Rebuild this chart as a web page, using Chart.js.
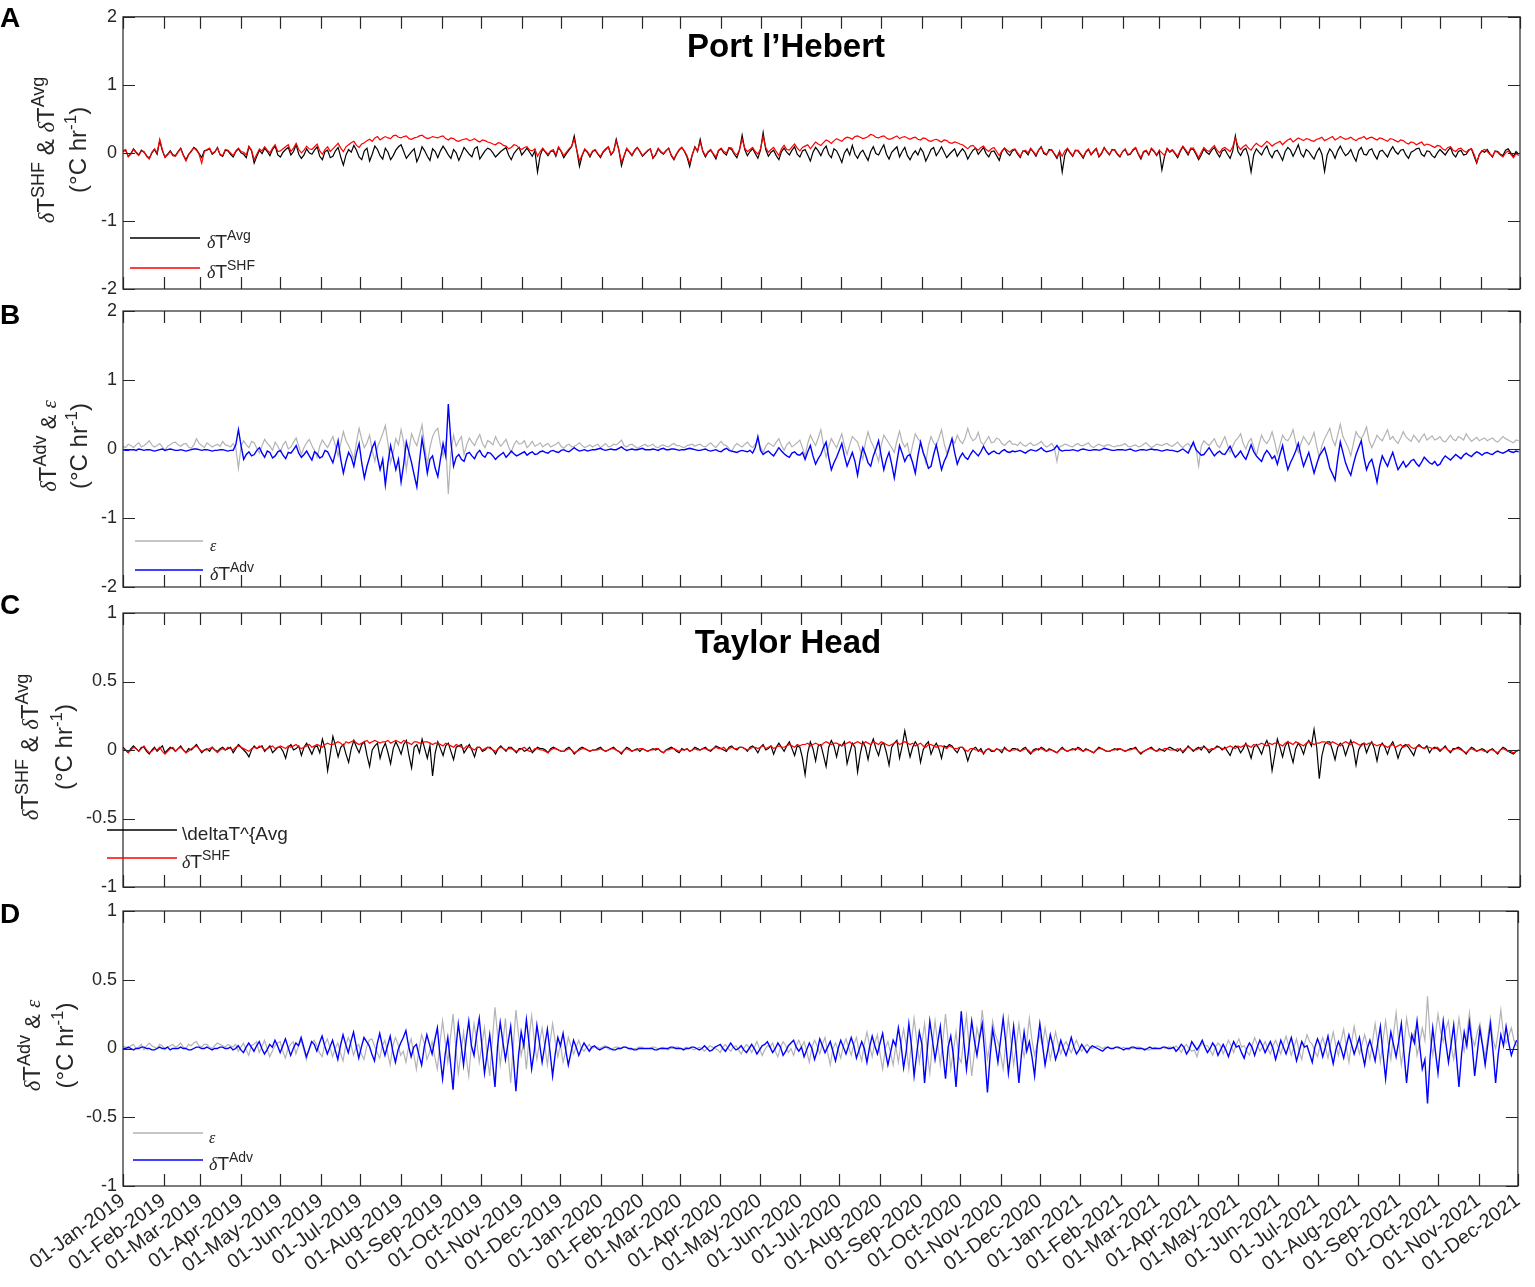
<!DOCTYPE html>
<html>
<head>
<meta charset="utf-8">
<script src="https://cdn.jsdelivr.net/npm/chart.js@4.4.1/dist/chart.umd.min.js"></script>
<style>
  html, body { margin: 0; padding: 0; background: #fff; }
  #wrap { position: relative; width: 1535px; height: 1287px; overflow: hidden; }
  canvas { position: absolute; left: 0; }
</style>
</head>
<body>
<div id="wrap">
  <canvas id="cA" width="1535" height="311" style="top:0px"></canvas>
  <canvas id="cB" width="1535" height="320" style="top:289px"></canvas>
  <canvas id="cC" width="1535" height="318" style="top:591px"></canvas>
  <canvas id="cD" width="1535" height="398" style="top:889px"></canvas>
</div>
<script>
// one sample every 2 days, starting 01-Jan-2019
const STEP_DAYS = 2;

const TICK_DAYS = [0, 31, 59, 90, 120, 151, 181, 212, 243, 273, 304, 334,
  365, 396, 425, 456, 486, 517, 547, 578, 609, 639, 670, 700,
  731, 762, 790, 821, 851, 882, 912, 943, 974, 1004, 1035, 1065];
const TICK_LABELS = ["01-Jan-2019", "01-Feb-2019", "01-Mar-2019", "01-Apr-2019", "01-May-2019", "01-Jun-2019",
  "01-Jul-2019", "01-Aug-2019", "01-Sep-2019", "01-Oct-2019", "01-Nov-2019", "01-Dec-2019",
  "01-Jan-2020", "01-Feb-2020", "01-Mar-2020", "01-Apr-2020", "01-May-2020", "01-Jun-2020",
  "01-Jul-2020", "01-Aug-2020", "01-Sep-2020", "01-Oct-2020", "01-Nov-2020", "01-Dec-2020",
  "01-Jan-2021", "01-Feb-2021", "01-Mar-2021", "01-Apr-2021", "01-May-2021", "01-Jun-2021",
  "01-Jul-2021", "01-Aug-2021", "01-Sep-2021", "01-Oct-2021", "01-Nov-2021", "01-Dec-2021"];

const Y_TICKS_PH = [-2, -1, 0, 1, 2];
const Y_TICKS_TH = [-1, -0.5, 0, 0.5, 1];

// Port l'Hebert: dT^Avg (black)
const PH_AVG = [
  0.02, 0.04, -0.05, -0.01, 0.06, 0.01, -0.03, 0.04, 0.01, -0.04, -0.08, 0.00, 0.05, -0.02, 0.18, 0.03, -0.06, -0.02, 0.03, -0.03,
  -0.04, 0.02, 0.07, -0.03, -0.10, -0.02, 0.02, 0.08, 0.05, -0.01, -0.07, 0.03, 0.04, 0.06, -0.02, 0.01, 0.08, -0.03, -0.05, 0.04,
  0.03, -0.02, -0.06, 0.02, 0.06, 0.00, -0.02, -0.07, 0.09, 0.03, -0.15, -0.05, 0.04, -0.01, 0.07, 0.02, -0.04, 0.05, 0.10, -0.03,
  -0.06, 0.01, 0.05, 0.08, -0.03, 0.02, 0.12, -0.02, -0.08, -0.03, 0.06, 0.00, -0.02, 0.04, 0.09, -0.05, -0.10, 0.02, 0.04, -0.07,
  -0.05, 0.03, 0.08, -0.06, -0.18, -0.03, 0.05, 0.01, 0.11, 0.04, -0.06, -0.10, 0.03, 0.07, -0.12, -0.02, 0.10, 0.05, -0.04, -0.09,
  0.07, 0.01, -0.10, -0.04, 0.04, 0.09, 0.12, 0.02, -0.08, -0.03, 0.02, 0.06, -0.13, -0.04, 0.09, 0.03, -0.05, -0.11, 0.06, 0.02,
  -0.07, 0.03, 0.10, 0.04, -0.03, -0.08, 0.05, 0.00, -0.11, -0.02, 0.08, 0.03, -0.02, -0.06, 0.06, 0.09, -0.09, -0.03, 0.03, 0.07,
  0.05, 0.00, -0.06, -0.02, 0.02, 0.05, 0.08, -0.03, -0.10, -0.01, 0.04, 0.08, -0.03, 0.02, 0.07, 0.01, -0.05, 0.03, -0.28, -0.04,
  0.06, 0.01, -0.04, 0.02, 0.03, -0.05, 0.08, 0.02, -0.07, -0.01, 0.04, 0.09, 0.25, 0.03, -0.20, -0.04, 0.05, 0.01, -0.06, 0.02,
  0.04, -0.02, -0.07, 0.01, 0.05, 0.09, -0.03, 0.02, 0.20, 0.04, -0.19, -0.05, 0.06, 0.01, -0.04, 0.03, 0.08, 0.02, -0.05, -0.01,
  0.03, 0.06, -0.08, -0.03, 0.06, 0.01, -0.02, 0.03, 0.07, -0.04, -0.10, -0.02, 0.04, 0.08, 0.02, -0.06, -0.20, -0.03, 0.09, 0.02,
  0.20, 0.02, -0.06, 0.01, 0.04, -0.02, -0.09, 0.03, 0.06, 0.00, -0.03, 0.07, 0.05, -0.02, -0.07, 0.04, 0.26, 0.05, -0.04, 0.02,
  0.06, -0.01, -0.08, 0.04, 0.30, 0.05, -0.05, 0.01, 0.04, -0.04, -0.10, 0.02, 0.07, 0.01, -0.03, 0.04, 0.09, -0.02, -0.06, 0.03,
  0.05, -0.03, -0.12, 0.01, 0.08, 0.03, -0.04, 0.05, 0.10, -0.02, -0.07, 0.06, 0.03, -0.05, -0.14, 0.00, 0.06, -0.03, 0.11, -0.02,
  -0.08, 0.00, 0.04, -0.04, -0.11, 0.02, 0.09, -0.01, -0.03, 0.05, 0.12, -0.02, -0.09, 0.01, 0.05, 0.09, -0.06, 0.02, 0.08, -0.04,
  -0.10, -0.02, 0.03, -0.03, 0.07, 0.01, -0.12, -0.04, 0.05, 0.08, -0.04, 0.02, 0.09, 0.01, -0.07, -0.02, 0.02, 0.06, -0.05, 0.01,
  0.06, 0.01, -0.09, -0.02, 0.04, 0.07, -0.02, 0.03, 0.08, -0.01, -0.06, 0.02, 0.03, -0.04, -0.11, 0.02, 0.07, 0.00, -0.04, 0.03,
  0.05, -0.02, -0.07, 0.03, 0.02, -0.03, 0.06, 0.01, -0.05, 0.04, 0.09, -0.01, -0.03, 0.05, 0.04, -0.02, -0.08, 0.02, -0.28, -0.03,
  0.06, 0.00, -0.05, 0.04, 0.03, -0.02, -0.08, 0.01, 0.05, -0.03, 0.02, 0.06, -0.06, -0.01, 0.08, 0.02, -0.03, 0.05, 0.04, -0.02,
  -0.06, 0.02, 0.05, -0.03, -0.02, 0.04, 0.07, -0.02, -0.09, 0.01, 0.03, -0.03, 0.06, 0.02, -0.04, 0.03, -0.25, -0.05, 0.06, 0.01,
  0.04, -0.01, -0.07, 0.02, 0.09, 0.03, -0.03, 0.06, 0.05, -0.02, -0.10, -0.03, 0.06, 0.01, -0.02, 0.04, 0.08, 0.00, -0.06, 0.03,
  0.05, -0.02, -0.08, 0.03, 0.25, 0.02, -0.04, 0.04, 0.07, -0.05, -0.28, -0.03, 0.06, 0.01, -0.03, 0.05, 0.10, -0.01, -0.07, 0.02,
  0.04, -0.03, -0.11, 0.02, 0.08, 0.04, -0.05, 0.03, 0.12, -0.01, -0.06, 0.05, 0.02, -0.04, -0.09, 0.01, 0.07, -0.02, -0.27, -0.03,
  0.06, 0.01, -0.08, 0.03, 0.10, 0.02, -0.04, -0.01, 0.05, -0.05, -0.12, 0.03, 0.08, -0.02, -0.03, 0.04, 0.06, -0.03, -0.09, 0.02,
  0.04, -0.01, -0.06, 0.03, 0.09, 0.02, -0.02, 0.04, 0.05, -0.03, -0.08, 0.01, 0.03, 0.06, 0.07, -0.02, -0.05, 0.03, 0.02, -0.04,
  -0.07, 0.00, 0.05, 0.01, -0.03, 0.03, 0.08, -0.02, -0.06, 0.02, 0.04, -0.03, -0.02, 0.04, 0.06, -0.05, -0.15, -0.02, 0.03, 0.01,
  0.05, -0.01, -0.06, 0.03, 0.02, -0.02, -0.04, 0.04, 0.06, 0.00, -0.05, 0.02, -0.02
];

// Port l'Hebert: dT^SHF (red)
const PH_SHF = [
  0.03, 0.05, -0.06, -0.02, 0.05, 0.00, -0.04, 0.03, 0.02, -0.05, -0.09, 0.01, 0.06, 0.00, 0.20, 0.05, -0.07, -0.03, 0.02, -0.04,
  -0.05, 0.01, 0.06, -0.04, -0.12, -0.03, 0.03, 0.07, 0.04, -0.02, -0.15, 0.02, 0.05, 0.07, -0.01, 0.02, 0.07, -0.02, -0.04, 0.05,
  0.04, 0.00, -0.04, 0.03, 0.07, 0.02, 0.01, -0.03, 0.10, 0.04, -0.10, -0.02, 0.06, 0.03, 0.09, 0.04, 0.00, 0.07, 0.12, 0.02,
  0.03, 0.06, 0.09, 0.12, 0.02, 0.07, 0.14, 0.05, 0.00, 0.04, 0.10, 0.06, 0.05, 0.09, 0.13, 0.03, -0.02, 0.05, 0.09, 0.02,
  0.06, 0.10, 0.14, 0.07, 0.02, 0.09, 0.12, 0.15, 0.17, 0.11, 0.08, 0.13, 0.15, 0.18, 0.20, 0.17, 0.22, 0.24, 0.19, 0.22,
  0.24, 0.22, 0.21, 0.25, 0.26, 0.23, 0.22, 0.24, 0.25, 0.21, 0.20, 0.22, 0.23, 0.25, 0.26, 0.23, 0.21, 0.22, 0.24, 0.23,
  0.22, 0.24, 0.25, 0.21, 0.19, 0.22, 0.21, 0.18, 0.17, 0.19, 0.20, 0.21, 0.18, 0.19, 0.21, 0.18, 0.16, 0.19, 0.18, 0.16,
  0.15, 0.13, 0.12, 0.15, 0.14, 0.11, 0.10, 0.06, 0.08, 0.12, 0.11, 0.07, 0.05, 0.08, 0.09, 0.04, 0.03, 0.06, -0.05, 0.02,
  0.07, 0.02, -0.02, 0.03, 0.05, -0.03, 0.09, 0.03, -0.04, 0.01, 0.06, 0.10, 0.20, 0.04, -0.12, -0.03, 0.06, 0.02, -0.04, 0.03,
  0.05, -0.01, -0.05, 0.02, 0.06, 0.09, -0.02, 0.03, 0.17, 0.05, -0.14, -0.04, 0.07, 0.02, -0.03, 0.04, 0.08, 0.03, -0.04, 0.00,
  0.04, 0.06, -0.07, -0.02, 0.07, 0.02, -0.01, 0.04, 0.06, -0.03, -0.09, -0.01, 0.05, 0.08, 0.03, -0.04, -0.15, -0.02, 0.08, 0.03,
  0.16, 0.03, -0.04, 0.02, 0.05, -0.01, -0.06, 0.04, 0.07, 0.02, 0.00, 0.08, 0.07, 0.00, -0.03, 0.05, 0.20, 0.07, 0.02, 0.05,
  0.08, 0.02, -0.02, 0.06, 0.24, 0.08, 0.01, 0.05, 0.08, 0.02, -0.04, 0.06, 0.11, 0.05, 0.04, 0.09, 0.13, 0.07, 0.03, 0.08,
  0.10, 0.12, 0.06, 0.11, 0.16, 0.13, 0.11, 0.15, 0.19, 0.17, 0.14, 0.18, 0.21, 0.19, 0.17, 0.21, 0.23, 0.22, 0.20, 0.24,
  0.25, 0.23, 0.21, 0.22, 0.24, 0.27, 0.26, 0.23, 0.22, 0.24, 0.25, 0.22, 0.20, 0.21, 0.23, 0.25, 0.21, 0.23, 0.24, 0.22,
  0.20, 0.22, 0.23, 0.20, 0.19, 0.22, 0.21, 0.18, 0.17, 0.19, 0.20, 0.18, 0.16, 0.19, 0.18, 0.15, 0.14, 0.16, 0.15, 0.13,
  0.12, 0.09, 0.06, 0.10, 0.11, 0.07, 0.04, 0.08, 0.10, 0.05, 0.02, 0.06, 0.08, 0.02, -0.04, 0.03, 0.07, 0.04, 0.01, 0.05,
  0.06, 0.00, -0.05, 0.02, 0.04, 0.00, 0.07, 0.02, -0.03, 0.04, 0.08, 0.01, -0.02, 0.03, 0.05, -0.01, -0.06, 0.02, -0.05, 0.03,
  0.07, 0.01, -0.04, 0.03, 0.04, -0.01, -0.06, 0.02, 0.06, -0.02, 0.03, 0.07, -0.05, 0.00, 0.07, 0.02, -0.02, 0.04, 0.05, -0.01,
  -0.05, 0.02, 0.06, -0.02, -0.01, 0.05, 0.08, -0.01, -0.07, 0.02, 0.04, -0.02, 0.07, 0.03, -0.03, 0.04, 0.00, -0.04, 0.07, 0.02,
  0.05, 0.00, -0.05, 0.04, 0.10, 0.05, -0.01, 0.07, 0.07, 0.00, -0.07, 0.01, 0.08, 0.04, 0.02, 0.07, 0.11, 0.04, 0.00, 0.06,
  0.08, 0.05, 0.02, 0.09, 0.22, 0.10, 0.05, 0.09, 0.12, 0.07, 0.04, 0.10, 0.14, 0.11, 0.09, 0.13, 0.17, 0.14, 0.10, 0.13,
  0.15, 0.17, 0.12, 0.16, 0.19, 0.21, 0.16, 0.19, 0.22, 0.20, 0.18, 0.21, 0.20, 0.18, 0.17, 0.20, 0.21, 0.23, 0.18, 0.20,
  0.22, 0.24, 0.19, 0.21, 0.24, 0.22, 0.20, 0.21, 0.23, 0.20, 0.18, 0.21, 0.22, 0.24, 0.20, 0.22, 0.23, 0.21, 0.19, 0.22,
  0.21, 0.19, 0.17, 0.21, 0.20, 0.18, 0.16, 0.19, 0.18, 0.15, 0.13, 0.16, 0.15, 0.12, 0.14, 0.16, 0.11, 0.13, 0.12, 0.10,
  0.08, 0.11, 0.10, 0.06, 0.04, 0.08, 0.09, 0.04, 0.02, 0.06, 0.07, 0.03, 0.01, 0.05, 0.06, -0.02, -0.13, -0.03, 0.03, 0.05,
  0.02, -0.02, -0.05, 0.02, 0.01, -0.03, -0.06, 0.00, 0.03, -0.02, -0.07, -0.01, -0.04
];

// Port l'Hebert: epsilon (grey)
const PH_EPS = [
  0.04, 0.02, 0.07, 0.05, 0.02, 0.06, 0.09, 0.03, 0.05, 0.08, 0.12, 0.06, 0.03, 0.05, 0.08, 0.03, -0.02, 0.04, 0.06, 0.09,
  0.10, 0.06, 0.04, 0.07, 0.08, 0.03, 0.01, 0.06, 0.15, 0.08, 0.05, 0.02, 0.09, 0.06, 0.03, 0.05, 0.07, 0.04, 0.11, 0.06,
  0.05, 0.03, 0.08, 0.02, -0.28, 0.04, 0.12, 0.06, 0.02, 0.11, 0.09, 0.01, -0.06, 0.05, 0.14, 0.08, 0.04, -0.02, 0.10, 0.04,
  -0.04, 0.06, 0.11, 0.00, 0.03, 0.10, 0.16, 0.04, -0.08, 0.02, 0.09, 0.14, 0.05, -0.02, -0.12, 0.04, 0.13, 0.07, 0.02, 0.10,
  0.18, 0.04, -0.10, 0.08, 0.25, 0.12, 0.05, -0.04, -0.15, 0.10, 0.30, 0.14, 0.02, 0.09, 0.20, -0.02, -0.18, 0.03, 0.12, 0.22,
  0.34, 0.08, -0.20, -0.05, 0.15, 0.06, 0.28, 0.10, -0.30, -0.02, 0.22, 0.12, 0.05, 0.20, 0.35, 0.04, -0.22, 0.02, 0.18, 0.26,
  0.30, 0.06, -0.10, 0.08, -0.65, -0.05, 0.20, 0.04, 0.12, 0.18, -0.08, 0.06, 0.16, 0.10, 0.05, 0.14, 0.21, 0.08, 0.02, 0.12,
  0.10, 0.06, 0.18, 0.10, 0.04, 0.09, 0.14, 0.03, -0.05, 0.06, 0.12, 0.07, 0.08, 0.12, 0.02, 0.06, 0.11, 0.04, 0.06, 0.09,
  0.03, 0.06, 0.08, 0.03, 0.05, 0.07, 0.10, 0.04, 0.01, 0.05, 0.07, 0.03, 0.04, 0.06, 0.09, 0.05, 0.02, 0.04, 0.06, 0.03,
  0.05, 0.07, 0.02, 0.05, 0.08, 0.03, 0.04, 0.07, 0.06, 0.09, 0.13, 0.05, 0.03, 0.06, 0.07, 0.04, 0.01, 0.03, 0.05, 0.07,
  0.04, 0.05, 0.07, 0.03, 0.02, 0.05, 0.06, 0.04, 0.03, 0.06, 0.08, 0.05, 0.05, 0.03, 0.02, 0.05, 0.06, 0.07, 0.04, 0.06,
  0.07, 0.04, 0.03, 0.06, 0.09, 0.05, 0.02, 0.07, 0.11, 0.06, 0.05, 0.01, -0.04, 0.04, 0.08, 0.05, 0.03, 0.07, 0.10, 0.05,
  0.02, 0.07, 0.12, 0.03, -0.05, 0.04, 0.09, 0.06, 0.04, 0.10, 0.15, 0.05, -0.02, 0.06, 0.10, 0.03, 0.06, 0.09, 0.13, 0.02,
  -0.10, 0.08, 0.20, 0.12, 0.05, 0.16, 0.28, 0.06, -0.12, 0.03, 0.15, 0.08, 0.02, 0.12, 0.22, 0.05, -0.08, 0.06, 0.18, 0.14,
  0.10, -0.02, -0.15, 0.10, 0.25, 0.12, 0.04, -0.06, -0.18, 0.05, 0.20, 0.14, 0.08, 0.02, -0.05, 0.12, 0.26, 0.10, 0.03, 0.08,
  -0.12, 0.06, 0.22, 0.15, 0.10, -0.04, -0.20, 0.05, 0.18, 0.09, 0.05, 0.16, 0.28, 0.08, -0.06, 0.04, 0.15, 0.08, 0.20, 0.12,
  0.08, 0.16, 0.30, 0.18, 0.12, 0.15, 0.24, 0.10, 0.06, 0.12, 0.18, 0.09, 0.10, 0.16, 0.14, 0.08, 0.05, 0.09, 0.12, 0.07,
  0.07, 0.05, 0.10, 0.06, 0.04, 0.07, 0.09, 0.05, 0.06, 0.08, 0.11, 0.06, 0.03, 0.05, 0.08, 0.02, -0.18, 0.03, 0.05, 0.07,
  0.06, 0.04, 0.03, 0.06, 0.08, 0.05, 0.05, 0.07, 0.09, 0.04, 0.02, 0.05, 0.07, 0.05, 0.04, 0.06, 0.06, 0.04, 0.03, 0.05,
  0.05, 0.06, 0.08, 0.04, 0.03, 0.05, 0.06, 0.03, 0.04, 0.07, 0.09, 0.05, 0.02, 0.04, 0.07, 0.06, 0.05, 0.07, 0.08, 0.05,
  0.04, 0.07, 0.10, 0.05, 0.02, 0.06, 0.08, 0.03, 0.06, 0.01, -0.25, 0.04, 0.12, 0.08, 0.05, 0.10, 0.15, 0.06, 0.02, 0.10,
  0.18, 0.06, -0.05, 0.04, 0.12, 0.16, 0.22, 0.08, 0.00, 0.10, 0.15, 0.03, -0.10, 0.06, 0.20, 0.12, 0.08, 0.14, 0.25, 0.10,
  -0.08, 0.06, 0.20, 0.14, 0.12, 0.18, 0.28, 0.10, -0.05, 0.08, 0.18, 0.12, 0.06, 0.14, 0.24, 0.04, -0.12, 0.05, 0.15, 0.22,
  0.30, 0.14, 0.05, 0.20, 0.36, 0.18, 0.10, 0.02, -0.10, 0.08, 0.25, 0.18, 0.15, 0.22, 0.32, 0.12, 0.02, 0.10, 0.20, 0.15,
  0.12, 0.20, 0.28, 0.14, 0.18, 0.12, 0.08, 0.16, 0.25, 0.18, 0.14, 0.11, 0.20, 0.15, 0.10, 0.17, 0.22, 0.13, 0.16, 0.19,
  0.13, 0.15, 0.18, 0.12, 0.10, 0.15, 0.20, 0.14, 0.12, 0.18, 0.16, 0.13, 0.22, 0.16, 0.11, 0.14, 0.17, 0.12, 0.14, 0.16,
  0.12, 0.14, 0.16, 0.12, 0.10, 0.14, 0.18, 0.15, 0.13, 0.11, 0.09, 0.13, 0.12
];

// Port l'Hebert: dT^Adv (blue)
const PH_ADV = [
  -0.01, -0.02, -0.02, -0.01, -0.01, -0.02, 0.00, -0.01, -0.02, -0.01, -0.01, -0.02, -0.03, -0.02, -0.01, 0.00, -0.02, -0.01, 0.00, -0.01,
  -0.02, -0.02, -0.01, -0.02, -0.03, -0.02, -0.01, 0.00, 0.00, -0.01, -0.02, -0.01, -0.01, -0.02, -0.03, -0.02, -0.02, -0.01, -0.01, -0.02,
  -0.03, -0.02, -0.02, 0.06, 0.28, 0.05, -0.15, -0.08, -0.04, -0.10, -0.08, -0.02, 0.02, -0.06, -0.12, -0.03, -0.05, -0.13, -0.10, -0.04,
  -0.02, -0.09, -0.14, -0.05, -0.06, -0.01, 0.05, -0.06, -0.12, -0.08, -0.03, -0.10, -0.16, -0.04, -0.07, -0.13, -0.11, -0.02, -0.04, -0.12,
  -0.20, -0.05, 0.12, -0.15, -0.35, -0.18, -0.05, -0.12, -0.25, -0.06, 0.08, -0.20, -0.42, -0.25, -0.12, 0.02, 0.10, -0.12, -0.30, -0.15,
  -0.52, -0.20, 0.05, -0.12, -0.30, -0.15, -0.48, -0.22, 0.10, -0.05, -0.20, -0.38, -0.55, -0.18, 0.15, -0.08, -0.35, -0.15, -0.10, -0.28,
  -0.40, -0.15, 0.08, -0.10, 0.65, 0.10, -0.25, -0.12, -0.08, -0.15, -0.18, -0.07, -0.05, -0.10, -0.14, -0.06, -0.02, -0.09, -0.12, -0.05,
  -0.06, -0.10, -0.15, -0.11, -0.08, -0.05, -0.12, -0.08, -0.03, -0.07, -0.10, -0.08, -0.06, -0.04, -0.09, -0.06, -0.04, -0.08, -0.07, -0.04,
  -0.03, -0.05, -0.06, -0.03, -0.02, -0.04, -0.05, -0.02, -0.01, -0.03, -0.04, -0.01, 0.02, -0.01, -0.03, -0.02, -0.01, -0.03, -0.02, -0.01,
  -0.01, 0.00, 0.01, -0.01, -0.02, -0.01, 0.00, -0.01, -0.01, 0.01, 0.03, 0.00, -0.02, -0.01, 0.00, -0.01, -0.01, 0.00, 0.01, -0.01,
  -0.01, -0.01, 0.00, -0.01, -0.02, 0.00, 0.01, -0.01, -0.01, 0.00, 0.00, -0.01, -0.02, -0.01, -0.01, 0.00, 0.01, 0.00, -0.01, -0.02,
  -0.02, -0.01, 0.00, -0.02, -0.03, -0.02, -0.01, -0.03, -0.04, -0.01, 0.01, -0.02, -0.03, -0.04, -0.05, -0.03, -0.02, -0.03, -0.04, -0.02,
  -0.06, 0.02, 0.18, -0.02, -0.08, -0.05, -0.03, -0.07, -0.10, -0.04, 0.02, -0.03, -0.07, -0.10, -0.12, -0.06, -0.04, -0.08, -0.09, -0.05,
  -0.15, -0.04, 0.05, -0.10, -0.22, -0.14, -0.08, 0.02, 0.10, -0.12, -0.30, -0.20, -0.12, -0.02, 0.08, -0.10, -0.25, -0.15, -0.05, -0.18,
  -0.38, -0.15, 0.02, -0.08, -0.20, -0.25, -0.10, 0.00, 0.12, -0.10, -0.30, -0.15, -0.05, -0.22, -0.42, -0.18, 0.05, -0.06, -0.18, -0.10,
  -0.08, -0.20, -0.35, -0.10, 0.10, -0.05, -0.15, -0.28, -0.25, -0.08, 0.06, -0.12, -0.30, -0.18, -0.10, 0.02, 0.15, -0.05, -0.22, -0.12,
  -0.06, -0.12, -0.15, -0.08, -0.02, -0.06, -0.10, -0.04, 0.04, -0.03, -0.08, -0.05, -0.03, -0.06, -0.07, -0.03, -0.01, -0.04, -0.05, -0.03,
  -0.04, -0.03, -0.02, -0.04, -0.06, -0.03, -0.01, -0.02, -0.03, -0.01, 0.02, -0.02, -0.04, -0.03, -0.02, 0.00, 0.05, -0.01, -0.03, -0.02,
  -0.02, -0.02, -0.01, -0.02, -0.03, -0.01, 0.00, -0.01, -0.02, -0.02, -0.01, -0.01, -0.02, -0.01, 0.01, 0.00, -0.01, -0.02, -0.02, -0.01,
  -0.01, -0.01, -0.02, -0.01, 0.00, -0.02, -0.03, -0.02, -0.01, -0.01, -0.02, -0.01, 0.00, -0.01, -0.01, -0.02, -0.03, -0.02, -0.01, -0.02,
  -0.02, -0.03, -0.04, -0.02, 0.00, -0.03, -0.06, 0.02, 0.10, -0.01, -0.05, -0.09, -0.08, -0.03, 0.02, -0.04, -0.10, -0.06, -0.03, -0.07,
  -0.08, -0.02, 0.04, -0.05, -0.12, -0.08, -0.03, -0.10, -0.15, -0.05, 0.06, -0.04, -0.10, -0.14, -0.18, -0.08, -0.02, -0.07, -0.14, -0.10,
  -0.22, -0.08, 0.05, -0.14, -0.30, -0.20, -0.12, -0.03, 0.08, -0.10, -0.25, -0.15, -0.05, -0.20, -0.35, -0.22, -0.10, -0.04, 0.02, -0.12,
  -0.28, -0.36, -0.45, -0.15, 0.10, -0.05, -0.20, -0.30, -0.38, -0.22, -0.08, 0.02, 0.12, -0.12, -0.30, -0.20, -0.15, -0.30, -0.48, -0.25,
  -0.10, -0.18, -0.25, -0.14, -0.05, -0.18, -0.30, -0.24, -0.18, -0.26, -0.22, -0.17, -0.15, -0.21, -0.25, -0.19, -0.12, -0.16, -0.20, -0.22,
  -0.18, -0.24, -0.22, -0.15, -0.10, -0.13, -0.16, -0.12, -0.08, -0.11, -0.14, -0.09, -0.06, -0.09, -0.11, -0.07, -0.04, -0.06, -0.09, -0.06,
  -0.05, -0.07, -0.08, -0.05, -0.03, -0.05, -0.06, -0.04, -0.02, -0.04, -0.05, -0.03, -0.04
];

// Taylor Head: dT^Avg (black)
const TH_AVG = [
  0.02, 0.00, -0.02, 0.01, 0.03, 0.01, -0.01, 0.02, 0.02, -0.01, -0.03, 0.00, 0.02, -0.01, 0.01, 0.03, -0.02, 0.00, 0.02, 0.01,
  -0.01, 0.01, 0.03, 0.00, -0.02, 0.01, 0.00, 0.02, 0.04, 0.01, -0.02, 0.00, 0.01, -0.01, 0.02, 0.00, -0.01, 0.01, 0.02, 0.00,
  0.01, 0.02, -0.02, 0.01, 0.04, 0.02, 0.00, -0.02, -0.05, 0.00, 0.03, 0.01, 0.02, 0.03, -0.01, 0.01, 0.03, -0.02, 0.00, 0.02,
  0.02, -0.01, -0.06, 0.02, 0.04, 0.00, 0.01, 0.03, -0.04, 0.02, 0.05, 0.01, -0.03, 0.02, 0.03, -0.02, 0.08, 0.01, -0.15, -0.03,
  0.10, 0.03, -0.05, 0.02, 0.04, -0.03, -0.09, 0.01, 0.07, 0.02, -0.02, 0.04, 0.06, -0.04, -0.12, 0.00, 0.03, 0.05, -0.06, 0.01,
  0.05, -0.02, -0.10, 0.01, 0.06, 0.02, -0.03, 0.04, 0.07, -0.04, -0.13, 0.02, 0.04, -0.02, 0.08, 0.01, -0.06, 0.03, -0.19, -0.02,
  0.06, 0.01, -0.04, 0.03, 0.05, -0.01, -0.07, 0.02, 0.03, 0.04, -0.02, 0.01, 0.04, 0.00, -0.05, 0.02, 0.02, -0.01, 0.00, 0.02,
  0.02, 0.00, -0.03, 0.01, 0.03, 0.01, -0.01, 0.02, 0.02, 0.00, -0.02, 0.01, 0.01, -0.01, 0.00, 0.02, -0.02, 0.00, 0.02, 0.01,
  0.01, 0.00, -0.02, 0.01, 0.02, 0.01, 0.00, -0.01, -0.01, 0.01, 0.02, 0.00, -0.03, -0.01, 0.01, 0.02, 0.01, 0.00, -0.01, 0.00,
  0.00, 0.01, 0.02, 0.00, -0.01, 0.00, 0.01, 0.02, 0.00, -0.01, -0.03, 0.00, 0.02, 0.01, -0.01, 0.00, 0.01, -0.01, 0.01, 0.00,
  -0.01, 0.00, 0.01, 0.00, 0.01, -0.01, -0.02, 0.00, 0.01, 0.02, 0.01, -0.01, -0.02, 0.01, 0.00, 0.01, -0.01, 0.00, 0.02, 0.01,
  0.00, 0.01, 0.02, 0.00, -0.01, 0.01, 0.03, 0.02, 0.01, 0.00, -0.01, 0.02, 0.03, 0.01, 0.00, 0.02, 0.02, 0.01, -0.01, 0.02,
  0.03, 0.01, -0.02, 0.02, 0.04, 0.00, 0.01, 0.03, -0.03, 0.02, 0.05, 0.02, -0.01, 0.03, 0.06, 0.01, -0.04, 0.03, 0.02, -0.06,
  -0.18, -0.02, 0.06, 0.01, -0.08, 0.03, 0.04, -0.04, -0.12, 0.02, 0.07, 0.03, -0.05, 0.04, 0.03, 0.06, -0.10, -0.02, 0.05, 0.02,
  -0.16, -0.03, 0.06, 0.02, -0.07, 0.03, 0.08, 0.01, -0.04, 0.04, 0.05, -0.02, -0.11, 0.02, 0.05, 0.07, -0.06, 0.03, 0.14, 0.04,
  -0.05, 0.02, 0.06, 0.03, -0.09, 0.00, 0.04, 0.06, -0.03, 0.02, 0.05, 0.01, -0.06, 0.03, 0.02, 0.04, 0.03, 0.00, -0.02, 0.02,
  0.02, -0.01, -0.08, -0.02, 0.01, 0.02, -0.01, 0.01, -0.03, 0.00, 0.01, -0.01, -0.01, 0.01, 0.00, -0.02, 0.02, 0.00, -0.01, 0.01,
  0.01, 0.00, -0.01, 0.01, 0.02, -0.01, -0.03, 0.00, 0.01, 0.00, 0.02, 0.01, -0.01, 0.01, 0.00, -0.01, -0.02, 0.00, 0.02, 0.00,
  -0.01, 0.00, 0.01, 0.00, 0.02, 0.01, -0.01, 0.01, 0.00, -0.01, -0.02, 0.00, 0.02, 0.01, 0.00, -0.01, -0.01, 0.00, 0.01, 0.00,
  0.01, 0.00, -0.01, 0.00, 0.01, 0.01, 0.02, -0.01, -0.03, -0.01, 0.00, 0.01, 0.02, 0.00, -0.01, 0.01, 0.00, -0.01, 0.01, 0.02,
  0.01, 0.00, -0.01, 0.01, -0.02, 0.00, 0.03, 0.01, -0.01, 0.01, 0.02, 0.00, 0.03, 0.01, -0.02, 0.00, 0.01, 0.03, 0.02, 0.00,
  0.02, -0.01, -0.04, 0.01, 0.03, 0.02, -0.02, 0.01, 0.05, 0.00, -0.06, 0.02, 0.04, 0.01, -0.03, 0.03, 0.07, 0.02, -0.15, -0.04,
  0.08, 0.02, -0.05, 0.03, 0.06, -0.02, -0.09, 0.01, 0.05, 0.02, -0.03, 0.04, 0.07, 0.03, 0.15, 0.02, -0.21, -0.04, 0.04, 0.06,
  0.06, 0.00, -0.07, 0.02, 0.05, 0.03, -0.04, 0.02, 0.07, 0.01, -0.11, 0.00, 0.04, 0.05, -0.02, 0.03, 0.06, 0.01, -0.08, 0.02,
  0.05, 0.02, -0.03, 0.03, 0.06, 0.01, -0.06, 0.00, 0.03, 0.04, 0.02, -0.01, -0.04, 0.02, 0.04, 0.02, 0.01, 0.03, -0.02, 0.01,
  0.02, 0.01, -0.01, 0.01, 0.03, 0.00, -0.02, 0.01, 0.01, 0.02, 0.01, -0.01, -0.03, 0.00, 0.02, 0.01, -0.01, 0.00, 0.01, 0.00,
  -0.02, 0.00, 0.01, -0.01, -0.03, 0.00, 0.02, 0.01, -0.01, -0.02, -0.03, -0.01, 0.00
];

// Taylor Head: dT^SHF (red)
const TH_SHF = [
  0.01, 0.00, -0.02, 0.00, 0.02, 0.01, -0.01, 0.01, 0.03, 0.00, -0.02, -0.01, 0.01, 0.00, 0.02, -0.01, -0.03, -0.01, 0.01, 0.02,
  -0.01, 0.01, 0.02, 0.00, -0.02, -0.01, 0.01, 0.02, 0.03, 0.01, -0.01, 0.00, 0.00, 0.01, 0.02, 0.00, -0.02, 0.00, 0.01, 0.00,
  0.02, 0.01, 0.00, 0.02, 0.03, 0.02, 0.01, 0.00, -0.01, 0.01, 0.02, 0.01, 0.03, 0.02, 0.00, 0.01, 0.02, 0.03, 0.01, 0.02,
  0.03, 0.02, 0.01, 0.03, 0.02, 0.03, 0.04, 0.02, 0.01, 0.02, 0.03, 0.04, 0.02, 0.03, 0.04, 0.03, 0.02, 0.04, 0.05, 0.04,
  0.04, 0.05, 0.06, 0.05, 0.03, 0.06, 0.05, 0.06, 0.07, 0.05, 0.04, 0.05, 0.06, 0.07, 0.05, 0.06, 0.07, 0.06, 0.05, 0.06,
  0.06, 0.07, 0.05, 0.06, 0.07, 0.06, 0.05, 0.07, 0.06, 0.05, 0.04, 0.06, 0.06, 0.05, 0.05, 0.06, 0.06, 0.05, 0.04, 0.05,
  0.05, 0.04, 0.03, 0.05, 0.04, 0.03, 0.02, 0.04, 0.03, 0.02, 0.01, 0.03, 0.02, 0.01, 0.00, 0.02, 0.02, 0.00, 0.01, 0.02,
  0.01, 0.00, -0.01, 0.01, 0.02, 0.01, 0.00, 0.01, 0.01, 0.00, -0.01, 0.00, 0.01, 0.02, 0.00, -0.01, -0.01, 0.01, 0.01, 0.00,
  0.00, -0.01, -0.02, 0.00, 0.01, 0.01, 0.00, -0.01, -0.01, 0.00, 0.01, 0.00, -0.02, -0.01, 0.00, 0.01, 0.01, 0.00, -0.01, 0.00,
  0.00, 0.00, 0.01, 0.00, -0.01, 0.00, 0.01, 0.01, 0.00, -0.01, -0.02, 0.00, 0.01, 0.00, -0.01, 0.00, 0.00, 0.01, 0.01, 0.00,
  -0.01, 0.00, 0.00, 0.01, 0.01, -0.01, -0.02, 0.00, 0.00, 0.01, 0.01, 0.00, -0.01, 0.00, 0.00, 0.01, -0.01, 0.00, 0.01, 0.00,
  0.00, 0.01, 0.01, 0.00, 0.00, 0.01, 0.02, 0.01, 0.01, 0.02, 0.00, 0.01, 0.02, 0.01, 0.01, 0.02, 0.02, 0.01, 0.00, 0.01,
  0.02, 0.02, 0.01, 0.02, 0.03, 0.01, 0.02, 0.03, 0.01, 0.02, 0.03, 0.02, 0.02, 0.03, 0.04, 0.03, 0.02, 0.04, 0.03, 0.04,
  0.04, 0.05, 0.03, 0.04, 0.05, 0.04, 0.03, 0.05, 0.06, 0.05, 0.04, 0.05, 0.05, 0.04, 0.03, 0.04, 0.05, 0.06, 0.04, 0.05,
  0.06, 0.05, 0.04, 0.06, 0.05, 0.04, 0.06, 0.05, 0.04, 0.06, 0.05, 0.04, 0.03, 0.04, 0.05, 0.06, 0.04, 0.05, 0.06, 0.05,
  0.04, 0.05, 0.03, 0.04, 0.05, 0.03, 0.02, 0.04, 0.04, 0.03, 0.02, 0.03, 0.03, 0.02, 0.01, 0.03, 0.02, 0.01, 0.01, 0.02,
  0.02, 0.00, -0.01, 0.01, 0.01, 0.00, 0.00, -0.01, -0.02, 0.00, 0.01, 0.00, -0.01, 0.01, 0.00, 0.00, 0.01, 0.00, -0.01, 0.00,
  0.00, 0.01, -0.01, 0.00, 0.01, 0.00, -0.02, -0.01, 0.00, 0.01, 0.01, 0.00, -0.01, 0.00, 0.00, -0.01, -0.02, 0.00, 0.01, 0.00,
  -0.01, 0.00, 0.00, 0.01, 0.01, 0.00, -0.01, 0.00, 0.00, -0.01, -0.02, 0.00, 0.01, 0.01, 0.00, -0.01, -0.01, 0.00, 0.00, 0.01,
  0.01, 0.00, -0.01, 0.00, 0.00, 0.01, 0.01, -0.01, -0.02, -0.01, 0.00, 0.01, 0.01, 0.00, -0.01, 0.00, 0.00, 0.01, 0.01, 0.00,
  0.00, 0.00, 0.01, 0.00, -0.01, 0.01, 0.02, 0.01, 0.00, 0.00, 0.01, 0.02, 0.02, 0.01, 0.00, 0.01, 0.01, 0.02, 0.02, 0.01,
  0.01, 0.02, 0.03, 0.02, 0.01, 0.03, 0.02, 0.03, 0.04, 0.03, 0.02, 0.04, 0.03, 0.04, 0.05, 0.04, 0.03, 0.05, 0.04, 0.05,
  0.05, 0.04, 0.03, 0.05, 0.06, 0.05, 0.04, 0.06, 0.05, 0.04, 0.03, 0.05, 0.06, 0.05, 0.04, 0.05, 0.05, 0.06, 0.06, 0.05,
  0.04, 0.06, 0.05, 0.04, 0.03, 0.05, 0.06, 0.05, 0.04, 0.06, 0.05, 0.04, 0.03, 0.05, 0.04, 0.05, 0.05, 0.04, 0.03, 0.04,
  0.04, 0.03, 0.02, 0.03, 0.04, 0.02, 0.03, 0.04, 0.02, 0.03, 0.04, 0.02, 0.01, 0.02, 0.03, 0.02, 0.01, 0.02, 0.02, 0.01,
  0.01, 0.02, 0.00, 0.01, 0.02, 0.00, -0.01, 0.00, 0.01, 0.01, 0.00, -0.01, -0.02, 0.00, 0.01, 0.00, -0.01, 0.00, 0.00, -0.01,
  -0.01, 0.00, 0.00, -0.01, -0.02, 0.00, 0.01, 0.00, -0.01, -0.01, -0.02, -0.01, 0.00
];

// Taylor Head: epsilon (grey)
const TH_EPS = [
  0.02, 0.01, 0.00, 0.02, 0.03, 0.00, 0.01, 0.03, -0.01, 0.02, 0.04, 0.02, 0.01, 0.00, 0.03, 0.02, -0.01, 0.01, 0.02, 0.03,
  0.01, 0.02, 0.04, 0.01, 0.00, 0.03, 0.02, 0.04, 0.05, 0.02, 0.01, 0.03, 0.03, 0.01, 0.00, 0.02, 0.04, 0.03, 0.02, 0.01,
  0.03, 0.02, 0.01, 0.03, -0.02, 0.01, 0.04, -0.01, -0.05, 0.02, 0.03, 0.05, -0.03, 0.01, 0.06, 0.00, -0.06, -0.02, 0.02, 0.04,
  0.05, -0.02, -0.07, 0.00, 0.03, 0.05, -0.04, 0.02, 0.06, -0.01, -0.08, 0.00, 0.04, 0.06, 0.02, -0.03, -0.06, 0.03, 0.07, 0.01,
  -0.06, 0.00, 0.04, -0.03, -0.09, 0.02, 0.08, 0.03, -0.05, 0.01, 0.03, -0.04, -0.08, 0.01, 0.06, 0.07, 0.02, -0.03, -0.07, 0.02,
  0.06, -0.03, -0.12, 0.02, 0.08, 0.03, -0.05, -0.02, -0.10, 0.01, 0.07, -0.04, -0.15, 0.00, 0.10, 0.04, -0.08, -0.03, 0.05, -0.06,
  -0.15, 0.04, 0.20, 0.05, -0.10, 0.08, 0.25, 0.02, -0.18, -0.04, 0.12, -0.06, -0.20, 0.02, 0.18, 0.06, -0.10, 0.03, 0.15, -0.05,
  -0.20, 0.06, 0.30, 0.10, -0.12, 0.04, 0.22, -0.04, -0.25, 0.02, 0.28, 0.10, -0.05, 0.05, -0.15, 0.08, 0.24, 0.06, -0.08, 0.04,
  0.15, 0.02, -0.12, 0.04, 0.18, 0.05, -0.06, 0.03, -0.10, -0.02, 0.08, 0.02, -0.04, 0.01, 0.06, 0.00, -0.02, 0.01, 0.03, 0.00,
  0.01, 0.01, 0.00, 0.01, 0.02, 0.00, -0.01, 0.00, 0.01, 0.01, 0.00, 0.01, 0.01, 0.00, -0.01, 0.00, 0.00, 0.01, 0.01, 0.00,
  0.00, 0.00, 0.01, 0.01, 0.00, 0.00, 0.01, 0.00, -0.01, 0.00, 0.00, 0.01, 0.01, 0.00, 0.00, 0.01, 0.00, 0.00, -0.01, 0.00,
  0.01, 0.00, -0.02, 0.00, 0.02, 0.01, 0.00, -0.01, -0.03, 0.01, 0.03, 0.00, -0.02, 0.01, 0.02, -0.01, -0.04, 0.00, 0.03, 0.01,
  -0.03, 0.01, 0.05, 0.00, -0.05, -0.01, 0.02, 0.01, 0.04, -0.02, -0.06, 0.01, 0.05, 0.02, -0.03, 0.00, -0.05, 0.02, 0.06, 0.01,
  0.05, -0.02, -0.10, 0.01, 0.06, 0.02, -0.04, 0.03, 0.08, -0.03, -0.12, 0.00, 0.04, -0.01, -0.07, 0.02, 0.07, 0.01, -0.05, 0.03,
  0.08, -0.02, -0.09, 0.03, 0.12, 0.02, -0.06, 0.04, 0.10, -0.04, -0.15, 0.00, 0.05, -0.03, -0.12, 0.02, -0.10, 0.04, 0.14, 0.02,
  -0.15, 0.05, 0.22, 0.06, -0.10, 0.04, 0.18, -0.02, -0.18, 0.03, 0.20, 0.04, -0.12, 0.06, 0.25, 0.05, -0.15, -0.02, 0.12, -0.06,
  -0.10, 0.08, 0.24, 0.02, -0.20, -0.03, 0.15, 0.06, 0.28, 0.10, -0.08, 0.04, 0.20, 0.10, 0.05, -0.04, -0.15, 0.03, 0.22, 0.05,
  -0.12, 0.02, 0.18, 0.04, -0.06, 0.05, 0.22, 0.06, -0.05, 0.03, 0.10, 0.02, 0.15, 0.04, -0.08, 0.02, 0.12, 0.03, -0.04, 0.02,
  0.05, 0.01, -0.03, 0.02, 0.06, 0.01, -0.02, 0.01, 0.03, 0.01, 0.00, 0.01, 0.02, 0.01, 0.00, 0.01, 0.01, 0.00, 0.00, 0.01,
  0.00, 0.00, 0.01, 0.00, -0.01, 0.00, 0.00, 0.01, 0.01, 0.00, 0.00, -0.01, -0.01, 0.00, 0.01, 0.00, 0.00, 0.01, 0.00, 0.01,
  0.01, 0.00, 0.02, 0.00, -0.03, 0.01, 0.03, 0.00, -0.02, -0.01, -0.06, 0.01, 0.04, 0.02, 0.02, -0.01, -0.05, 0.01, 0.04, 0.02,
  -0.04, 0.01, 0.06, 0.02, -0.03, 0.03, 0.07, 0.01, 0.02, -0.02, -0.05, 0.02, 0.08, 0.03, -0.02, 0.01, 0.05, 0.00, -0.04, 0.02,
  0.06, 0.01, -0.04, 0.03, 0.09, 0.02, -0.05, 0.01, 0.07, -0.02, -0.08, 0.03, 0.10, 0.05, 0.03, -0.02, -0.06, 0.02, 0.08, 0.01,
  -0.07, 0.03, 0.12, 0.02, -0.05, 0.06, 0.14, 0.01, -0.10, 0.04, 0.16, 0.05, -0.04, 0.03, 0.10, 0.02, -0.08, 0.05, 0.18, 0.04,
  -0.10, 0.06, 0.20, 0.04, -0.08, 0.10, 0.26, 0.05, -0.12, 0.02, 0.22, 0.10, 0.05, 0.12, -0.05, 0.04, 0.15, 0.06, 0.38, 0.08,
  -0.05, 0.10, 0.25, 0.12, 0.05, 0.14, 0.20, 0.02, -0.08, 0.06, 0.22, 0.08, -0.02, 0.10, 0.26, 0.08, 0.02, 0.12, 0.18, 0.04,
  -0.06, 0.08, 0.22, 0.06, 0.00, 0.12, 0.28, 0.10, 0.04, 0.09, 0.15, 0.06, 0.02
];

// Taylor Head: dT^Adv (blue)
const TH_ADV = [
  0.00, 0.00, 0.01, 0.00, -0.01, 0.00, 0.00, 0.01, 0.01, 0.00, 0.00, -0.01, -0.01, 0.00, 0.01, 0.00, 0.00, 0.01, -0.01, 0.00,
  0.00, 0.00, 0.01, 0.00, 0.00, -0.01, -0.01, 0.00, 0.01, 0.01, 0.00, 0.00, 0.01, 0.00, -0.01, 0.00, 0.00, 0.01, 0.01, 0.00,
  0.00, 0.01, -0.01, 0.00, 0.02, -0.01, -0.03, 0.01, 0.04, 0.01, -0.02, 0.02, 0.05, 0.00, -0.04, -0.01, 0.03, 0.01, 0.06, 0.02,
  -0.03, 0.02, 0.07, 0.01, -0.05, 0.00, 0.04, 0.02, 0.08, 0.01, -0.06, -0.01, 0.05, 0.03, -0.02, 0.04, 0.09, 0.02, -0.04, 0.01,
  0.06, -0.01, -0.08, 0.02, 0.10, 0.03, -0.03, 0.05, 0.12, 0.02, -0.07, 0.01, 0.08, 0.05, 0.02, -0.04, -0.09, 0.03, 0.11, 0.02,
  -0.05, 0.02, 0.09, -0.02, -0.10, -0.01, 0.04, 0.08, 0.13, 0.02, -0.06, 0.01, 0.03, -0.05, -0.12, 0.01, 0.10, 0.03, -0.04, 0.06,
  0.15, -0.05, -0.22, -0.04, 0.08, -0.10, -0.30, -0.02, 0.18, 0.04, -0.12, 0.06, 0.20, 0.02, -0.05, 0.10, 0.22, 0.02, -0.18, -0.04,
  0.10, -0.08, -0.28, 0.02, 0.19, 0.05, -0.08, 0.04, 0.16, -0.06, -0.31, -0.05, 0.12, 0.02, 0.21, 0.04, -0.15, -0.02, 0.17, 0.04,
  -0.10, 0.02, 0.14, -0.02, -0.20, -0.04, 0.08, 0.02, 0.11, -0.01, -0.12, -0.03, 0.06, 0.01, -0.05, 0.00, 0.04, 0.01, -0.02, 0.01,
  0.02, 0.00, -0.01, 0.00, 0.01, 0.01, 0.00, -0.01, -0.01, 0.00, 0.00, 0.01, 0.01, 0.00, 0.00, -0.01, -0.01, 0.00, 0.00, 0.00,
  0.00, 0.00, 0.00, -0.01, -0.01, 0.00, 0.00, 0.00, 0.00, 0.01, 0.01, 0.00, 0.00, 0.00, -0.01, 0.00, 0.00, 0.01, 0.01, 0.00,
  -0.01, 0.00, 0.02, 0.00, -0.02, -0.01, 0.01, 0.02, 0.03, 0.00, -0.02, 0.01, 0.04, 0.01, -0.01, 0.00, 0.02, -0.01, -0.03, 0.00,
  0.03, 0.00, -0.04, -0.01, 0.02, 0.03, 0.05, 0.01, -0.03, 0.00, 0.04, 0.01, -0.05, -0.02, 0.02, 0.04, 0.06, 0.01, -0.02, 0.01,
  -0.06, -0.01, 0.04, 0.00, -0.08, -0.02, 0.07, 0.02, -0.03, 0.01, 0.05, -0.02, -0.09, 0.00, 0.06, 0.01, -0.04, 0.02, 0.08, 0.02,
  -0.07, -0.01, 0.05, 0.00, -0.10, 0.01, 0.09, 0.02, -0.04, 0.04, 0.11, -0.02, -0.12, -0.03, 0.06, 0.02, 0.15, 0.03, -0.14, -0.02,
  0.18, 0.02, -0.20, -0.04, 0.12, 0.03, -0.25, -0.02, 0.20, 0.06, -0.08, 0.04, 0.16, -0.04, -0.22, 0.01, 0.09, -0.05, -0.28, -0.02,
  0.27, 0.05, -0.15, 0.02, 0.20, 0.06, -0.05, 0.08, 0.18, -0.04, -0.32, -0.06, 0.14, 0.03, -0.10, 0.06, 0.22, 0.04, -0.18, -0.02,
  0.16, -0.02, -0.25, -0.04, 0.12, -0.02, 0.05, -0.06, -0.20, 0.02, 0.18, 0.03, -0.12, -0.01, 0.10, 0.02, -0.08, -0.02, 0.06, 0.00,
  -0.05, 0.01, 0.08, 0.01, -0.04, -0.01, 0.03, 0.00, -0.03, 0.00, 0.02, 0.01, 0.00, -0.01, -0.02, 0.00, 0.01, 0.00, 0.00, 0.01,
  0.01, 0.00, -0.01, 0.00, 0.00, 0.01, 0.01, 0.00, 0.00, 0.00, -0.01, 0.00, 0.01, 0.00, 0.00, 0.00, 0.00, 0.01, 0.01, 0.00,
  0.00, 0.01, -0.02, 0.00, 0.03, 0.01, -0.04, -0.01, 0.05, 0.02, -0.01, 0.02, 0.06, 0.01, -0.03, 0.00, 0.04, 0.01, -0.05, -0.01,
  0.03, -0.01, -0.06, 0.00, 0.05, 0.01, 0.02, -0.03, -0.07, 0.00, 0.04, 0.01, -0.05, 0.01, 0.06, 0.02, -0.03, 0.01, 0.05, 0.00,
  -0.08, -0.01, 0.06, 0.01, -0.04, 0.02, 0.08, 0.00, -0.09, -0.02, 0.05, 0.01, 0.02, -0.04, -0.10, 0.01, 0.07, 0.02, -0.06, 0.01,
  0.09, -0.02, -0.11, -0.01, 0.05, 0.00, -0.07, 0.02, 0.10, 0.03, -0.04, 0.02, 0.08, -0.03, -0.12, 0.00, 0.06, -0.01, -0.09, 0.04,
  0.16, -0.04, -0.22, -0.02, 0.12, 0.03, -0.06, 0.05, 0.18, -0.03, -0.25, -0.05, 0.10, 0.04, 0.20, 0.02, -0.15, -0.08, -0.40, -0.06,
  0.15, -0.02, -0.18, 0.02, 0.20, 0.04, -0.10, 0.03, 0.17, -0.05, -0.28, -0.04, 0.12, 0.02, 0.19, 0.03, -0.20, -0.03, 0.14, 0.02,
  -0.12, 0.03, 0.18, -0.02, -0.25, -0.04, 0.10, 0.02, 0.16, 0.04, -0.05, 0.01, 0.06
];

const AXIS_COLOR = "#262626";
const SANS = '"Liberation Sans", Arial, Helvetica, sans-serif';
const SERIF = '"Liberation Serif", "DejaVu Serif", serif';
const GREY = "#b3b3b3";
const BLUE = "#0000ff";
const RED = "#ff0000";
const BLACK = "#000000";

Chart.defaults.font.family = SANS;

function toPoints(values) {
  return values.map((v, i) => ({ x: i * STEP_DAYS, y: v }));
}

// small rich-text helpers (MATLAB tex labels: delta, superscripts)
function fontOf(p) {
  return `${p.italic ? "italic " : ""}${p.bold ? "bold " : ""}${p.size}px ${p.serif ? SERIF : SANS}`;
}
function drawRich(ctx, parts, x, y, align) {
  let total = 0;
  parts.forEach((p) => { ctx.font = fontOf(p); p.w = ctx.measureText(p.t).width; total += p.w; });
  let cx = align === "center" ? x - total / 2 : x;
  parts.forEach((p) => {
    ctx.font = fontOf(p);
    ctx.fillText(p.t, cx, y - (p.rise || 0));
    cx += p.w;
  });
}
function dT(sup, size, supSize, rise) {
  return [
    { t: "δ", size: size * 0.95, italic: true, serif: true },
    { t: "T", size },
    { t: sup, size: supSize, rise },
  ];
}
const eps = (size) => ({ t: "ε", size, italic: true, serif: true });

const Y_LINE_SHF_AVG = () => [...dT("SHF", 24, 18, 10), { t: " & ", size: 24 }, ...dT("Avg", 24, 18, 10)];
const Y_LINE_ADV_EPS = () => [...dT("Adv", 24, 18, 10), { t: " & ", size: 22 }, eps(21)];
const Y_LINE_UNITS = () => [{ t: "(°C hr", size: 24 }, { t: "-1", size: 17, rise: 10 }, { t: ")", size: 24 }];

const PANELS = [
  {
    id: "cA", top: 0, padTop: 14, padBottom: 22, yMin: -2, yMax: 2, yTicks: Y_TICKS_PH,
    letter: "A", letterY: 27, title: "Port l’Hebert", titleX: 786, titleY: 57,
    yLab1: Y_LINE_SHF_AVG, yLab1X: 54, yLab2X: 86,
    series: [{ values: PH_AVG, color: BLACK, order: 1, width: 1.2 }, { values: PH_SHF, color: RED, order: 0, width: 1.2 }],
    legend: { x0: 130, x1: 200, tx: 207, items: [
      { y: 238, color: BLACK, parts: () => dT("Avg", 19, 14, 8) },
      { y: 268, color: RED, parts: () => dT("SHF", 19, 14, 8) },
    ] },
  },
  {
    id: "cB", top: 289, padTop: 22, padBottom: 22, yMin: -2, yMax: 2, yTicks: Y_TICKS_PH,
    letter: "B", letterY: 324, title: null,
    yLab1: Y_LINE_ADV_EPS, yLab1X: 56, yLab2X: 87,
    series: [{ values: PH_EPS, color: GREY, order: 1, width: 1.2 }, { values: PH_ADV, color: BLUE, order: 0, width: 1.4 }],
    legend: { x0: 135, x1: 203, tx: 210, items: [
      { y: 541, color: GREY, parts: () => [eps(16)] },
      { y: 570, color: BLUE, parts: () => dT("Adv", 19, 14, 8) },
    ] },
  },
  {
    id: "cC", top: 591, padTop: 22, padBottom: 22, yMin: -1, yMax: 1, yTicks: Y_TICKS_TH,
    letter: "C", letterY: 614, title: "Taylor Head", titleX: 788, titleY: 653,
    yLab1: Y_LINE_SHF_AVG, yLab1X: 38, yLab2X: 72,
    series: [{ values: TH_AVG, color: BLACK, order: 1, width: 1.2 }, { values: TH_SHF, color: RED, order: 0, width: 1.2 }],
    legend: { x0: 107, x1: 177, tx: 182, items: [
      { y: 830, color: BLACK, parts: () => [{ t: "\\deltaT^{Avg", size: 19 }] },
      { y: 858, color: RED, parts: () => dT("SHF", 19, 14, 8) },
    ] },
  },
  {
    id: "cD", top: 889, padTop: 22, padBottom: 0, yMin: -1, yMax: 1, yTicks: Y_TICKS_TH, showX: true,
    letter: "D", letterY: 923, title: null,
    yLab1: Y_LINE_ADV_EPS, yLab1X: 40, yLab2X: 73,
    series: [{ values: TH_EPS, color: GREY, order: 1, width: 1.2 }, { values: TH_ADV, color: BLUE, order: 0, width: 1.4 }],
    legend: { x0: 133, x1: 203, tx: 209, items: [
      { y: 1133, color: GREY, parts: () => [eps(16)] },
      { y: 1160, color: BLUE, parts: () => dT("Adv", 19, 14, 8) },
    ] },
  },
];

function framePlugin(spec) {
  return {
    id: "matlabFrame",
    afterDraw(chart) {
      const { ctx, chartArea: a, scales } = chart;
      const off = spec.top;
      const TL = 12;
      ctx.save();
      // box + inward ticks
      ctx.strokeStyle = AXIS_COLOR;
      ctx.lineWidth = 1.2;
      ctx.strokeRect(a.left, a.top, a.right - a.left, a.bottom - a.top);
      ctx.beginPath();
      TICK_DAYS.forEach((d) => {
        const px = Math.round(scales.x.getPixelForValue(d)) + 0.5;
        ctx.moveTo(px, a.bottom); ctx.lineTo(px, a.bottom - TL);
        ctx.moveTo(px, a.top); ctx.lineTo(px, a.top + TL);
      });
      spec.yTicks.forEach((v) => {
        const py = Math.round(scales.y.getPixelForValue(v)) + 0.5;
        ctx.moveTo(a.left, py); ctx.lineTo(a.left + TL, py);
        ctx.moveTo(a.right, py); ctx.lineTo(a.right - TL, py);
      });
      ctx.stroke();

      // panel letter
      ctx.fillStyle = BLACK;
      ctx.textBaseline = "alphabetic";
      ctx.textAlign = "left";
      ctx.font = `bold 28px ${SANS}`;
      ctx.fillText(spec.letter, 0, spec.letterY - off);

      // title
      if (spec.title) {
        ctx.textAlign = "center";
        ctx.font = `bold 33px ${SANS}`;
        ctx.fillText(spec.title, spec.titleX, spec.titleY - off);
        ctx.textAlign = "left";
      }

      // y axis title (two rotated lines)
      ctx.fillStyle = AXIS_COLOR;
      const midY = (a.top + a.bottom) / 2 - 3;
      [[spec.yLab1(), spec.yLab1X], [Y_LINE_UNITS(), spec.yLab2X]].forEach(([parts, bx]) => {
        ctx.save();
        ctx.translate(bx, midY);
        ctx.rotate(-Math.PI / 2);
        drawRich(ctx, parts, 0, 0, "center");
        ctx.restore();
      });

      // legend
      const lg = spec.legend;
      lg.items.forEach((it) => {
        const ly = it.y - off;
        ctx.strokeStyle = it.color;
        ctx.lineWidth = 1.3;
        ctx.beginPath();
        ctx.moveTo(lg.x0, ly); ctx.lineTo(lg.x1, ly);
        ctx.stroke();
        ctx.fillStyle = AXIS_COLOR;
        drawRich(ctx, it.parts(), lg.tx, ly + 10, "left");
      });
      ctx.restore();
    },
  };
}

function makePanel(spec) {
  const canvas = document.getElementById(spec.id);
  return new Chart(canvas.getContext("2d"), {
    type: "line",
    data: {
      datasets: spec.series.map((s) => ({
        data: toPoints(s.values),
        borderColor: s.color,
        borderWidth: s.width,
        pointRadius: 0,
        tension: 0,
        fill: false,
        order: s.order,
      })),
    },
    options: {
      responsive: false,
      animation: false,
      events: [],
      layout: { padding: { left: 0, right: 15, top: spec.padTop, bottom: spec.padBottom } },
      plugins: { legend: { display: false }, tooltip: { enabled: false } },
      scales: {
        x: {
          type: "linear",
          min: 0,
          max: 1065,
          display: !!spec.showX,
          afterBuildTicks: (s) => { s.ticks = TICK_DAYS.map((v) => ({ value: v })); },
          afterFit: (s) => { if (spec.showX) s.height = 101; },
          grid: { display: false, drawTicks: false },
          border: { display: false },
          ticks: {
            autoSkip: false,
            minRotation: 36,
            maxRotation: 36,
            padding: 3,
            color: AXIS_COLOR,
            font: { size: 20 },
            callback: (v, i) => TICK_LABELS[i],
          },
        },
        y: {
          type: "linear",
          min: spec.yMin,
          max: spec.yMax,
          afterBuildTicks: (s) => { s.ticks = spec.yTicks.map((v) => ({ value: v })); },
          afterFit: (s) => { s.width = 123; },
          grid: { display: false, drawTicks: false },
          border: { display: false },
          ticks: { padding: 6, color: AXIS_COLOR, font: { size: 18 }, callback: (v) => String(v) },
        },
      },
    },
    plugins: [framePlugin(spec)],
  });
}

PANELS.forEach(makePanel);
</script>
</body>
</html>
